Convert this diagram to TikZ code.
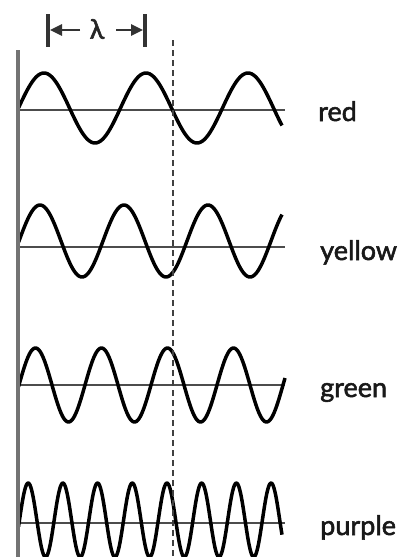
\documentclass[tikz,border=0pt]{standalone}
\usepackage{fontspec}
\setmainfont{Lato}[FakeBold=2]
\usetikzlibrary{arrows.meta}
\tikzset{
  wave/.style={line width=3.5pt, black, line join=round},
  axisline/.style={line width=2.6pt, black!70},
  leftline/.style={line width=3.4pt, black!55},
  dashline/.style={line width=2.4pt, black!75, dash pattern=on 6pt off 4pt},
  lambar/.style={line width=3.4pt, black!80},
  lamarrow/.style={line width=2.6pt, black!80, -{Triangle[length=12pt,width=11pt]}},
  colorlabel/.style={anchor=base west, inner sep=0pt, font=\fontsize{27}{30}\selectfont, text=black!90},
}
\begin{document}
\begin{tikzpicture}[x=1pt,y=-1pt]
\useasboundingbox[fill=white] (0,0) rectangle (405,557);
% left vertical line and dashed marker
\coordinate (vtop) at (18,50);
\coordinate (vbot) at (18,557);
\coordinate (dtop) at (173,40);
\coordinate (dbot) at (173,557);
% axes
\coordinate (r0) at (18,110);  \coordinate (r1) at (285,110);
\coordinate (y0) at (18,247);  \coordinate (y1) at (285,247);
\coordinate (g0) at (18,385);  \coordinate (g1) at (285,385);
\coordinate (p0) at (18,523);  \coordinate (p1) at (285,523);
\draw[axisline] (r0) -- (r1);
\draw[axisline] (y0) -- (y1);
\draw[axisline] (g0) -- (g1);
\draw[axisline] (p0) -- (p1);
% waves
\begin{scope}
\clip (0,0) rectangle (405,557);
\draw[wave] plot[domain=18.5:282, samples=200, smooth] (\x, {108 - 35*sin(3.5294*(\x-18.5))});
\draw[wave] plot[domain=18.5:282, samples=200, smooth] (\x, {241 - 36*sin(4.2857*(\x-19))});
\draw[wave] plot[domain=18.5:285, samples=220, smooth] (\x, {385 - 37*sin(5.4545*(\x-19))});
\draw[wave] plot[domain=18.5:282, samples=300, smooth] (\x, {520 - 37*sin(10.375*(\x-19.5))});
\end{scope}
\draw[leftline] (vtop) -- (vbot);
\draw[dashline] (dtop) -- (dbot);
% lambda marker
\coordinate (bl0) at (48,14); \coordinate (bl1) at (48,47);
\coordinate (br0) at (145,14); \coordinate (br1) at (145,47);
\draw[lambar] (bl0) -- (bl1);
\draw[lambar] (br0) -- (br1);
\node[inner sep=0pt, font=\fontsize{27}{30}\selectfont, text=black!85] (lam) at (97,29) {λ};
\coordinate (alt) at (80,30); \coordinate (alh) at (50,30);
\coordinate (art) at (116,30); \coordinate (arh) at (143,30);
\draw[lamarrow] (alt) -- (alh);
\draw[lamarrow] (art) -- (arh);
% labels
\node[colorlabel] (lred) at (318,121) {red};
\node[colorlabel] (lyellow) at (320,260) {yellow};
\node[colorlabel] (lgreen) at (320,397) {green};
\node[colorlabel] (lpurple) at (320,535) {purple};
\end{tikzpicture}
\end{document}
